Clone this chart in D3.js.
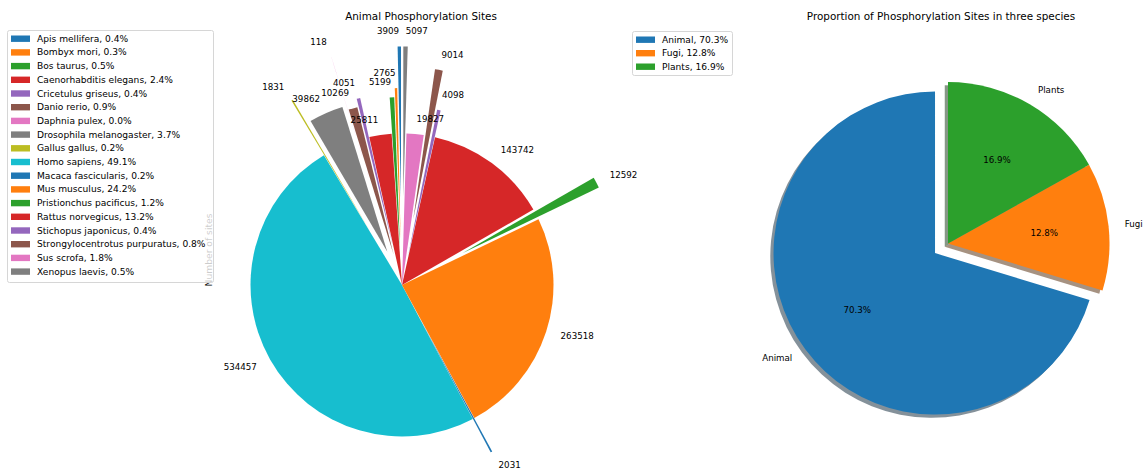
<!DOCTYPE html>
<html>
<head>
<meta charset="utf-8">
<script src="https://cdn.jsdelivr.net/npm/d3@7"></script>
<style>
  body { margin: 0; background: #fff; }
  text { font-family: "DejaVu Sans", sans-serif; fill: #000; }
</style>
</head>
<body>
<div id="chart"></div>
<script>
// species in plotting order (counter-clockwise from 12 o'clock)
const species = ["Apis mellifera", "Bombyx mori", "Bos taurus", "Caenorhabditis elegans",
  "Cricetulus griseus", "Danio rerio", "Daphnia pulex", "Drosophila melanogaster",
  "Gallus gallus", "Homo sapiens", "Macaca fascicularis", "Mus musculus",
  "Pristionchus pacificus", "Rattus norvegicus", "Stichopus japonicus",
  "Strongylocentrotus purpuratus", "Sus scrofa", "Xenopus laevis"];
const sites = [3909, 2765, 5199, 25811, 4051, 10269, 118, 39862, 1831, 534457,
  2031, 263518, 12592, 143742, 4098, 9014, 19827, 5097];
// explode fraction of the radius for each wedge
const explode = [0.575, 0.3, 0.24, 0, 0.265, 0.21, 0.575, 0.24, 0.42, 0,
  0.25, 0, 0.45, 0, 0.18, 0.44, 0, 0.575];

const groups = ["Animal", "Fugi", "Plants"];
const groupShare = [70.3, 12.8, 16.9];
const groupExplode = [0.1, 0, 0];

const W = 1144, H = 471;
const svg = d3.select("#chart").append("svg")
  .attr("width", W).attr("height", H);
svg.append("rect").attr("width", W).attr("height", H).attr("fill", "#fff");

const color = d3.scaleOrdinal(d3.schemeCategory10);
const fmt = d3.format(".1f");

// matplotlib style pie: start at top, go counter-clockwise
const pie = d3.pie().sort(null).startAngle(0).endAngle(-2 * Math.PI);

function dir(d) {
  const a = (d.startAngle + d.endAngle) / 2;
  return [Math.sin(a), -Math.cos(a)];
}

//---- left pie
const cx1 = 402, cy1 = 285, r1 = 151.5;
const arcs1 = pie(sites);
const arc1 = d3.arc().innerRadius(0).outerRadius(r1);

const left = svg.append("g").attr("transform", `translate(${cx1},${cy1})`);

// y label sits under the legend
svg.append("text")
  .attr("transform", `translate(212,250) rotate(-90)`)
  .attr("text-anchor", "middle")
  .style("font-size", "9.2px")
  .text("Number of sites");

left.selectAll(".w")
  .data(arcs1)
  .enter().append("path")
  .attr("transform", (d, i) => {
    const [ux, uy] = dir(d);
    return `translate(${ux * explode[i] * r1},${uy * explode[i] * r1})`;
  })
  .attr("d", arc1)
  .attr("fill", (d, i) => color(i));

left.selectAll(".lbl")
  .data(arcs1)
  .enter().append("text")
  .attr("x", (d, i) => dir(d)[0] * (1.1 + explode[i]) * r1)
  .attr("y", (d, i) => dir(d)[1] * (1.1 + explode[i]) * r1)
  .attr("dy", "0.3em")
  .attr("text-anchor", d => dir(d)[0] > 0 ? "start" : "end")
  .style("font-size", "8.7px")
  .text(d => d.data);

svg.append("text")
  .attr("x", 421).attr("y", 20)
  .attr("text-anchor", "middle")
  .style("font-size", "10.4px")
  .text("Animal Phosphorylation Sites");

//---- right pie
const cx2 = 948, cy2 = 243.5, r2 = 161.5;
const arcs2 = pie(groupShare);
const arc2 = d3.arc().innerRadius(0).outerRadius(r2);
const right = svg.append("g").attr("transform", `translate(${cx2},${cy2})`);

// shadows first
right.selectAll(".sh")
  .data(arcs2)
  .enter().append("path")
  .attr("transform", (d, i) => {
    const [ux, uy] = dir(d);
    return `translate(${ux * groupExplode[i] * r2 - 0.02 * r2},${uy * groupExplode[i] * r2 + 0.02 * r2})`;
  })
  .attr("d", arc2)
  .attr("fill", (d, i) => {
    const c = d3.rgb(color(i));
    return d3.rgb(c.r * 0.3, c.g * 0.3, c.b * 0.3);
  })
  .attr("opacity", 0.5);

right.selectAll(".w")
  .data(arcs2)
  .enter().append("path")
  .attr("transform", (d, i) => {
    const [ux, uy] = dir(d);
    return `translate(${ux * groupExplode[i] * r2},${uy * groupExplode[i] * r2})`;
  })
  .attr("d", arc2)
  .attr("fill", (d, i) => color(i));

right.selectAll(".lbl")
  .data(arcs2)
  .enter().append("text")
  .attr("x", (d, i) => dir(d)[0] * (1.1 + groupExplode[i]) * r2)
  .attr("y", (d, i) => dir(d)[1] * (1.1 + groupExplode[i]) * r2)
  .attr("dy", "0.3em")
  .attr("text-anchor", d => dir(d)[0] > 0 ? "start" : "end")
  .style("font-size", "8.7px")
  .text((d, i) => groups[i]);

right.selectAll(".pct")
  .data(arcs2)
  .enter().append("text")
  .attr("x", (d, i) => dir(d)[0] * (0.6 + groupExplode[i]) * r2)
  .attr("y", (d, i) => dir(d)[1] * (0.6 + groupExplode[i]) * r2)
  .attr("dy", "0.3em")
  .attr("text-anchor", "middle")
  .style("font-size", "8.7px")
  .text(d => fmt(d.data) + "%");

svg.append("text")
  .attr("x", 941).attr("y", 20)
  .attr("text-anchor", "middle")
  .style("font-size", "10.4px")
  .text("Proportion of Phosphorylation Sites in three species");

//---- legends
function legend(x, y, w, h, labels, rowStep) {
  const g = svg.append("g").attr("transform", `translate(${x},${y})`);
  g.append("rect")
    .attr("x", 0.5).attr("y", 0.5)
    .attr("width", w).attr("height", h)
    .attr("rx", 2)
    .attr("fill", "#fff").attr("fill-opacity", 0.8)
    .attr("stroke", "#d6d6d6");
  const row = g.selectAll(".row")
    .data(labels)
    .enter().append("g")
    .attr("transform", (d, i) => `translate(0,${8.7 + i * rowStep})`);
  row.append("rect")
    .attr("x", 4).attr("y", -3.2)
    .attr("width", 19).attr("height", 6.4)
    .attr("fill", (d, i) => color(i));
  row.append("text")
    .attr("x", 30).attr("dy", "0.33em")
    .style("font-size", "9.1px")
    .text(d => d);
}

const total = d3.sum(sites);
legend(7, 30, 206, 252,
  species.map((s, i) => `${s}, ${fmt(sites[i] / total * 100)}%`), 13.7);

const gTotal = d3.sum(groupShare);
legend(632, 31, 100, 44,
  groups.map((s, i) => `${s}, ${fmt(groupShare[i] / gTotal * 100)}%`), 13.5);
</script>
</body>
</html>
